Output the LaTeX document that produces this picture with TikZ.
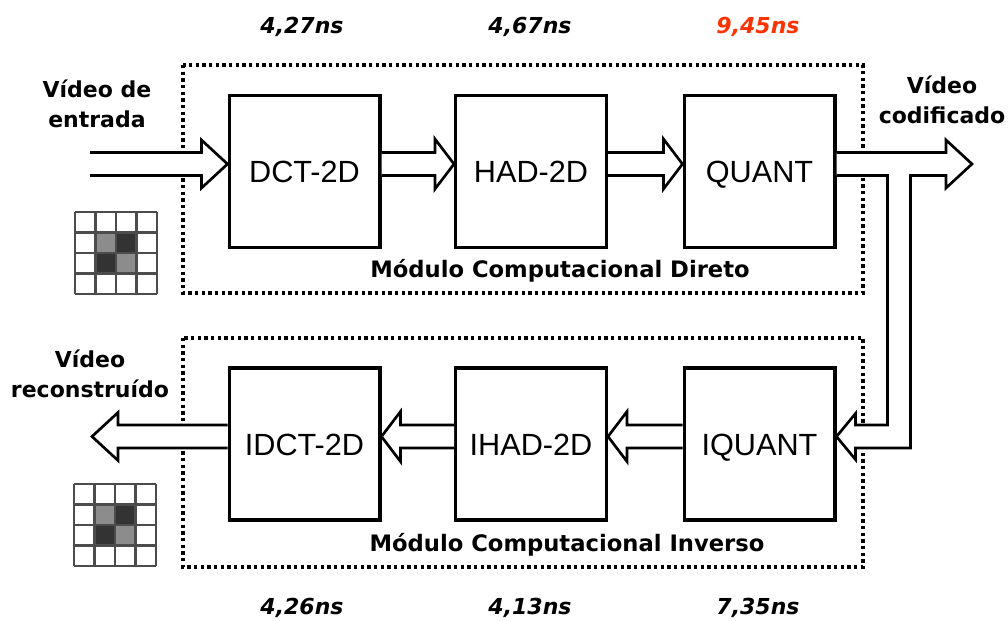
\documentclass[tikz,border=0pt]{standalone}
\usepackage{fontspec}
\usetikzlibrary{calc}

\newfontfamily\vfont{DejaVu Sans}
\newfontfamily\afont{Liberation Sans}
\definecolor{critico}{HTML}{FF3300}

% block arrow dimensions (px)
\def\sw{11.5}
\def\hw{25}
\def\hl{19}
% \blockarrow[dir]{from}{tip}, dir = 1 right, -1 left
\newcommand{\blockarrow}[3][1]{%
  \path[seta] ($(#2)+(0,-\sw)$) -- ($(#3)+({-(#1)*\hl},-\sw)$)
    -- ($(#3)+({-(#1)*\hl},-\hw)$) -- (#3) -- ($(#3)+({-(#1)*\hl},\hw)$)
    -- ($(#3)+({-(#1)*\hl},\sw)$) -- ($(#2)+(0,\sw)$);
}

\tikzset{
  bloco/.style={draw, line width=2.5pt, fill=white, minimum width=113pt,
    minimum height=114pt, text height=16.5pt, text depth=0pt,
    font=\afont\fontsize{23}{27}\selectfont},
  rotulo/.style={font=\vfont\bfseries\fontsize{16.5}{22}\selectfont,
    align=center, inner sep=0pt},
  modtxt/.style={font=\vfont\bfseries\fontsize{17}{20}\selectfont,
    inner sep=0pt, anchor=base},
  tempo/.style={font=\vfont\bfseries\itshape\fontsize{16.5}{20}\selectfont,
    inner sep=0pt, anchor=base},
  modulo/.style={line width=2.6pt, dash pattern=on 2.6pt off 2.4pt},
  seta/.style={draw, fill=white, line width=2pt, line join=miter},
  pixgrid/.pic={
    \fill[black!45] (20.5,20.5) rectangle (41,41);
    \fill[black!80] (41,20.5) rectangle (61.5,41);
    \fill[black!80] (20.5,41) rectangle (41,61.5);
    \fill[black!45] (41,41) rectangle (61.5,61.5);
    \foreach \i in {0,...,4} {
      \draw[black!70, line width=2pt] (\i*20.5,0) -- (\i*20.5,82);
      \draw[black!70, line width=2pt] (0,\i*20.5) -- (82,\i*20.5);
    }
  },
}

\begin{document}
\begin{tikzpicture}[x=0.75pt, y=-0.75pt]
\useasboundingbox (0,0) rectangle (1008,621);

% module frames
\draw[modulo] (183,65) rectangle (863,293);
\draw[modulo] (183,338) rectangle (863,567);
\node[modtxt] (dir) at (560,277) {Módulo Computacional Direto};
\node[modtxt] (inv) at (567,551) {Módulo Computacional Inverso};

% direct path
\node[bloco] (dct) at (304.5,171.5) {DCT-2D};
\node[bloco] (had) at (531,171.5) {HAD-2D};
\node[bloco] (quant) at (759.5,171.5) {QUANT};

% inverse path
\node[bloco] (idct) at (304.5,444) {IDCT-2D};
\node[bloco] (ihad) at (531,444) {IHAD-2D};
\node[bloco] (iquant) at (759.5,444) {IQUANT};

% critical path delays
\node[tempo] (t1) at (302,33) {4,27ns};
\node[tempo] (t2) at (530,33) {4,67ns};
\node[tempo, text=critico] (t3) at (758,33) {9,45ns};
\node[tempo] (t4) at (302,614) {4,26ns};
\node[tempo] (t5) at (530,614) {4,13ns};
\node[tempo] (t6) at (758,614) {7,35ns};

% video labels
\node[rotulo] (entrada) at (97,104) {Vídeo de\\entrada};
\node[rotulo] (codif) at (942,100) {Vídeo\\codificado};
\node[rotulo] (recons) at (90,374) {Vídeo\\reconstruído};

% macroblocks
\pic at (75,212) {pixgrid};
\pic at (74,484) {pixgrid};

% arrows between blocks
\foreach \a/\b in {dct/had, had/quant} {
  \coordinate (p) at ([yshift=5.6pt]\a.east);
  \coordinate (q) at ([yshift=5.6pt]\b.west);
  \blockarrow{p}{q}
}
\foreach \a/\b in {iquant/ihad, ihad/idct} {
  \coordinate (p) at ([yshift=5.6pt]\a.west);
  \coordinate (q) at ([yshift=5.6pt]\b.east);
  \blockarrow[-1]{p}{q}
}

% input and reconstructed output
\def\hl{26}
\def\hw{24}
\coordinate (src) at (90,164);
\coordinate (dctin) at ([yshift=5.6pt]dct.west);
\blockarrow{src}{dctin}
\coordinate (idctout) at ([yshift=5.6pt]idct.west);
\coordinate (sink) at (92,436.5);
\blockarrow[-1]{idctout}{sink}

% coded output with feedback into IQUANT
\coordinate (o1) at ([yshift=5.6pt]quant.east);
\coordinate (out) at (972,164);
\coordinate (fb) at ([yshift=5.6pt]iquant.east);
\path[seta] ($(o1)+(0,-\sw)$) -- ($(out)+(-\hl,-\sw)$) -- ($(out)+(-\hl,-\hw)$)
  -- (out) -- ($(out)+(-\hl,\hw)$) -- ($(out)+(-\hl,\sw)$)
  -- ($(o1)+(74,\sw)$) -- ($(fb)+(74,\sw)$) -- ($(fb)+(19,\sw)$)
  -- ($(fb)+(19,23)$) -- (fb) -- ($(fb)+(19,-23)$) -- ($(fb)+(19,-\sw)$)
  -- ($(fb)+(51,-\sw)$) -- ($(o1)+(51,\sw)$) -- ($(o1)+(0,\sw)$);
\end{tikzpicture}
\end{document}
